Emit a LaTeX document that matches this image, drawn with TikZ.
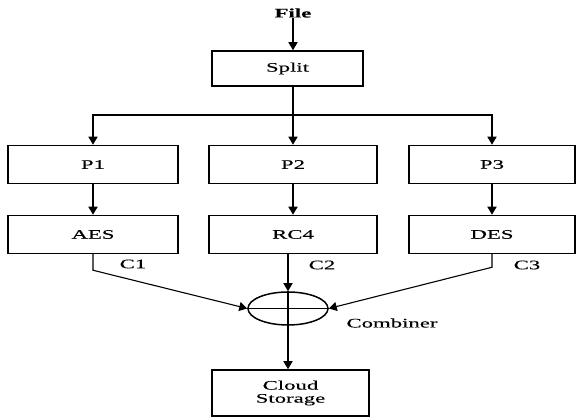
\documentclass[tikz,border=0pt]{standalone}
\usepackage{fontspec}
\setmainfont{Liberation Serif}[FakeStretch=1.75,FakeBold=0.3]
\usetikzlibrary{arrows.meta,shapes.geometric}
\begin{document}
\begin{tikzpicture}[x=1pt,y=-1pt,
  line width=1.5pt,
  arr/.style={-{Triangle[length=8pt,width=9pt]}},
  blk/.style={draw,rectangle,minimum height=38pt,inner sep=0pt,font=\fontsize{13}{15}\selectfont},
  lbl/.style={inner sep=0pt,font=\fontsize{13}{15}\selectfont}]
\useasboundingbox (0,0) rectangle (576,419);

% input and splitter
\node[lbl,font=\fontsize{13}{15}\selectfont\bfseries] (file) at (293,13) {File};
\node[blk,minimum width=151pt,minimum height=35pt] (split) at (287.5,68.5) {Split};
\draw[arr] (file.south) -- (file.south |- split.north);

% three parts
\node[blk,minimum width=170pt] (p1) at (93,164.5) {P1};
\node[blk,minimum width=168pt] (p2) at (293,164.5) {P2};
\node[blk,minimum width=166pt] (p3) at (492,164.5) {P3};

% ciphers
\node[blk,minimum width=170pt] (aes) at (93,234.5) {AES};
\node[blk,minimum width=168pt] (rc4) at (293,234.5) {RC4};
\node[blk,minimum width=166pt] (des) at (492,234.5) {DES};

% combiner
\node[draw,ellipse,minimum width=80pt,minimum height=33pt,inner sep=0pt] (comb) at (288,308.5) {};
\draw (comb.west) -- (comb.east);
\draw (comb.north) -- (comb.south);

% storage
\node[blk,minimum width=157pt,minimum height=46pt,align=center] (cloud) at (290.5,393) {Cloud\\[-2pt]Storage};

% split bus
\coordinate (bus) at (293,115);
\draw (split.south -| bus) -- (bus);
\draw[arr] (bus) -| (p1.north);
\draw[arr] (bus) -| (p3.north);
\draw[arr] (bus) -- (p2.north);

% part to cipher
\draw[arr] (p1.south) -- (aes.north);
\draw[arr] (p2.south) -- (rc4.north);
\draw[arr] (p3.south) -- (des.north);

% ciphertexts into combiner
\draw[arr,line width=1.1pt] (aes.south) -- ++(0,16) -- (comb.west);
\draw[arr] (rc4.south -| comb.north) -- (comb.north);
\draw[arr,line width=1.1pt] (des.south) -- ++(0,13) -- (comb.east);
\draw[arr] (comb.south) -- (comb.south |- cloud.north);

% labels
\node[lbl] (c1) at (133,264) {C1};
\node[lbl] (c2) at (322,265) {C2};
\node[lbl] (c3) at (527,265) {C3};
\node[lbl] (cmb) at (392,323) {Combiner};
\end{tikzpicture}
\end{document}
